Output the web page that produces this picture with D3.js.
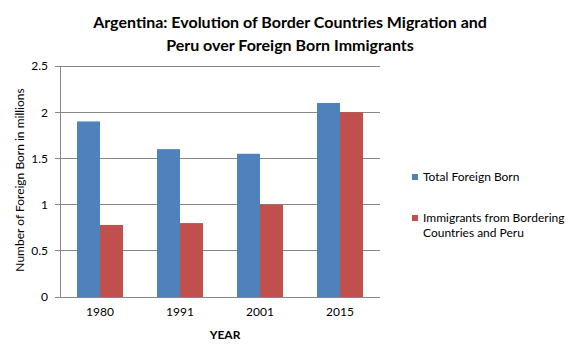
<!DOCTYPE html>
<html><head><meta charset="utf-8">
<script src="https://cdn.jsdelivr.net/npm/d3@7"></script>
<style>body{margin:0;background:#fff}svg{display:block}text{font-family:Lato,"Open Sans",sans-serif}</style>
</head><body>
<svg id="c" width="577" height="351"></svg>
<script>
const categories = ["1980","1991","2001","2015"];
const totalForeignBorn = [1.9, 1.6, 1.55, 2.1];
const borderingAndPeru = [0.78, 0.8, 1.0, 2.0];
const yTicks = [0, 0.5, 1, 1.5, 2, 2.5];
const seriesNames = ["Total Foreign Born", "Immigrants from Bordering Countries and Peru"];
const colors = ["#4F81BD", "#C0504D"];

const svg = d3.select("#c");
const m = {l:60, r:380, t:66, b:297};
const x = d3.scaleBand().domain(categories).range([m.l, m.r]).paddingInner(0.425).paddingOuter(0.2125);
const y = d3.scaleLinear().domain([0, 2.5]).range([m.b, m.t]);

svg.append("g").selectAll("line").data(yTicks).join("line")
  .attr("x1", m.l-5).attr("x2", m.r).attr("y1", d=>y(d)).attr("y2", d=>y(d))
  .attr("stroke", "#878787").attr("stroke-width", 1).attr("shape-rendering","crispEdges");
svg.append("line").attr("x1", m.l).attr("x2", m.l).attr("y1", m.t).attr("y2", m.b)
  .attr("stroke", "#878787").attr("shape-rendering","crispEdges");

const yAxis = svg.append("g").attr("transform", `translate(${m.l-5},0)`)
  .call(d3.axisLeft(y).tickValues(yTicks).tickSize(0).tickPadding(7).tickFormat(d3.format("")));
yAxis.select(".domain").remove();
yAxis.selectAll("text").attr("font-size", 12).attr("fill", "#000").style("font-family","Lato,sans-serif");

const xAxis = svg.append("g").attr("transform", `translate(0,${m.b})`)
  .call(d3.axisBottom(x).tickSize(0).tickPadding(10));
xAxis.select(".domain").remove();
xAxis.selectAll("text").attr("font-size", 12).attr("fill", "#000").style("font-family","Lato,sans-serif");

const sub = d3.scaleBand().domain([0,1]).range([0, x.bandwidth()]);
const data = categories.map((c,i)=>({c, v:[totalForeignBorn[i], borderingAndPeru[i]]}));
svg.append("g").selectAll("g").data(data).join("g")
  .attr("transform", d=>`translate(${x(d.c)},0)`)
  .selectAll("rect").data(d=>d.v.map((v,j)=>({v,j}))).join("rect")
  .attr("x", d=>sub(d.j)).attr("width", sub.bandwidth())
  .attr("y", d=>y(d.v)).attr("height", d=>y(0)-y(d.v))
  .attr("fill", d=>colors[d.j]);

const title = svg.append("text").attr("text-anchor","middle").attr("font-size",16).attr("font-weight","bold");
title.append("tspan").attr("x", 290).attr("y", 28).text("Argentina: Evolution of Border Countries Migration and");
title.append("tspan").attr("x", 290).attr("y", 51).text("Peru over Foreign Born Immigrants");

svg.append("text").attr("text-anchor","middle").attr("font-size",12).attr("font-weight","bold")
  .attr("x", 225).attr("y", 339).text("YEAR");
svg.append("text").attr("text-anchor","middle").attr("font-size",12)
  .attr("transform","translate(24,180) rotate(-90)").text("Number of Foreign Born in millions");

const lg = svg.append("g");
lg.append("rect").attr("x",412).attr("y",174).attr("width",6).attr("height",6).attr("fill",colors[0]);
lg.append("text").attr("x",423).attr("y",181).attr("font-size",12).text(seriesNames[0]);
lg.append("rect").attr("x",412).attr("y",215).attr("width",6).attr("height",6).attr("fill",colors[1]);
const t2 = lg.append("text").attr("font-size",12);
t2.append("tspan").attr("x",423).attr("y",222).text("Immigrants from Bordering");
t2.append("tspan").attr("x",423).attr("y",237).text("Countries and Peru");
</script>
</body></html>
